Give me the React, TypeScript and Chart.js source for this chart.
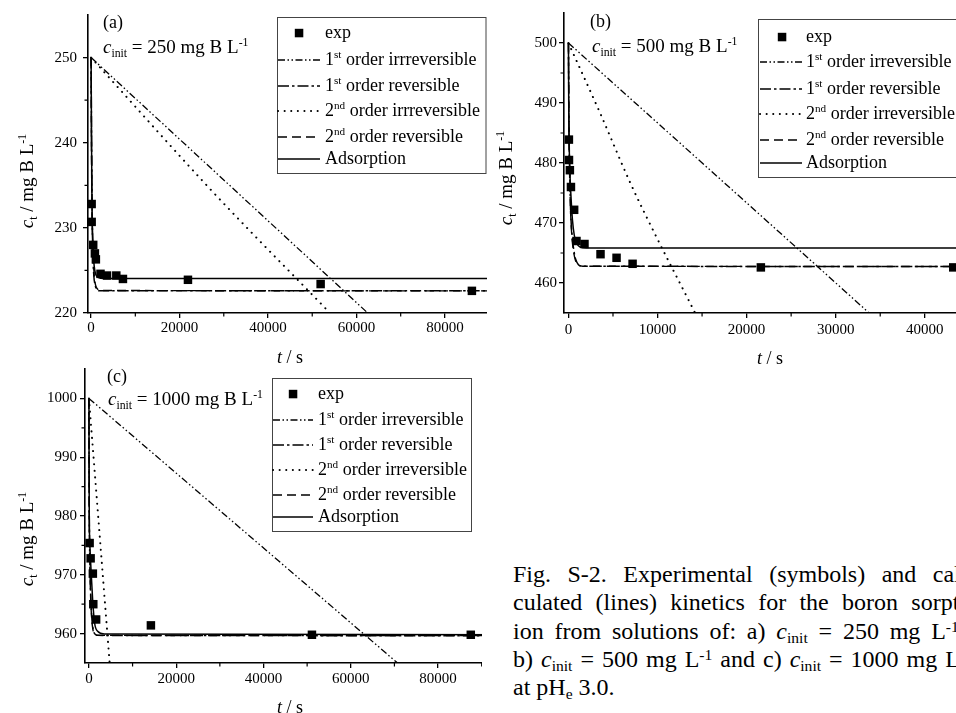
import React, { useEffect, useRef } from 'react';
import { Chart, registerables } from 'chart.js';
Chart.register(...registerables);

const SERIF = "'Liberation Serif', 'Times New Roman', Times, serif";

type Part = { t: string; s?: 'sub' | 'sup'; i?: boolean };

// ---------------- Panel (a): c_init = 250 ----------------
const aExpT = [125, 130, 480, 860, 1080, 2130, 3600, 5700, 7200, 21900, 51900, 86100];
const aExpC = [232.8, 230.7, 228.0, 227.0, 226.3, 224.6, 224.4, 224.4, 224.0, 223.9, 223.4, 222.6];
const a1IrrT = [0, 62550, 70000];
const a1IrrC = [250, 220, 216.4];
const a1RevT = [0, 100, 200, 400, 600, 900, 1300, 2000, 96000];
const a1RevC = [250, 241, 234, 227, 224.5, 223.3, 222.8, 222.6, 222.6];
const a2IrrT = [0, 26300, 35800, 54000, 60000];
const a2IrrC = [250, 234.9, 229.7, 220, 216.7];
const a2RevT = [0, 100, 200, 400, 700, 1000, 1500, 2500, 96000];
const a2RevC = [250, 238, 232, 227.5, 224.5, 223.3, 222.8, 222.65, 222.6];
const aAdsT = [0, 100, 200, 350, 500, 700, 1000, 1500, 3000, 96000];
const aAdsC = [250, 240, 233, 229, 227, 225.5, 224.6, 224.2, 224.05, 224.05];
const aXTicks = [0, 20000, 40000, 60000, 80000];
const aXMinor = [10000, 30000, 50000, 70000, 90000];
const aYTicks = [220, 230, 240, 250];
const aYMinor = [225, 235, 245];

// ---------------- Panel (b): c_init = 500 ----------------
const bExpT = [50, 60, 160, 280, 640, 900, 1800, 3600, 5400, 7200, 21600, 43200];
const bExpC = [483.9, 480.5, 478.8, 476.0, 472.2, 467.0, 466.5, 464.8, 464.2, 463.2, 462.6, 462.6];
const b1IrrT = [0, 33750, 36500];
const b1IrrC = [500, 455, 451.3];
const b1RevT = [0, 50, 120, 250, 400, 600, 800, 1100, 1600, 50000];
const b1RevC = [500, 488, 480, 472, 468, 465.5, 464, 463.1, 462.8, 462.75];
const b2IrrT = [0, 3500, 7000, 10000, 13400, 15000];
const b2IrrC = [500, 488.5, 476.5, 467.3, 457.4, 452.7];
const b2RevT = [0, 50, 120, 250, 400, 600, 800, 1100, 1600, 50000];
const b2RevC = [500, 487, 479, 471.5, 467.5, 465, 463.7, 463.0, 462.8, 462.75];
const bAdsT = [0, 30, 60, 150, 300, 450, 650, 900, 1300, 2000, 50000];
const bAdsC = [500, 490, 485, 479, 474, 470.5, 468, 466.7, 466.0, 465.85, 465.85];
const bXTicks = [0, 10000, 20000, 30000, 40000];
const bXMinor = [5000, 15000, 25000, 35000, 45000];
const bYTicks = [460, 470, 480, 490, 500];
const bYMinor = [465, 475, 485, 495];

// ---------------- Panel (c): c_init = 1000 ----------------
const cExpT = [160, 390, 900, 1000, 1650, 14200, 51100, 87500];
const cExpC = [975.4, 972.8, 970.2, 965.0, 962.4, 961.4, 959.8, 959.8];
const c1IrrT = [0, 70700, 76000];
const c1IrrC = [1000, 955, 951.6];
const c1RevT = [0, 50, 150, 350, 600, 900, 1300, 2000, 96000];
const c1RevC = [1000, 985, 975, 968, 963.5, 961, 960, 959.7, 959.65];
const c2IrrT = [0, 2400, 4750, 5200];
const c2IrrC = [1000, 977.3, 955, 950.7];
const c2RevT = [0, 40, 120, 300, 550, 850, 1200, 2000, 96000];
const c2RevC = [1000, 985, 976, 968.5, 963.5, 961, 960, 959.7, 959.65];
const cAdsT = [0, 30, 80, 200, 400, 650, 900, 1300, 2000, 3500, 96000];
const cAdsC = [1000, 990, 980, 975.5, 972, 968.5, 965.2, 961.8, 960.4, 959.95, 959.8];
const cXTicks = [0, 20000, 40000, 60000, 80000];
const cXMinor = [10000, 30000, 50000, 70000, 90000];
const cYTicks = [960, 970, 980, 990, 1000];
const cYMinor = [965, 975, 985, 995];

// ---------------- Text ----------------
const legendLabelsA: Part[][] = [
  [{ t: 'exp' }],
  [{ t: '1' }, { t: 'st', s: 'sup' }, { t: ' order irrreversible' }],
  [{ t: '1' }, { t: 'st', s: 'sup' }, { t: ' order reversible' }],
  [{ t: '2' }, { t: 'nd', s: 'sup' }, { t: ' order irrreversible' }],
  [{ t: '2' }, { t: 'nd', s: 'sup' }, { t: ' order reversible' }],
  [{ t: 'Adsorption' }],
];
const legendLabelsBC: Part[][] = [
  [{ t: 'exp' }],
  [{ t: '1' }, { t: 'st', s: 'sup' }, { t: ' order irreversible' }],
  [{ t: '1' }, { t: 'st', s: 'sup' }, { t: ' order reversible' }],
  [{ t: '2' }, { t: 'nd', s: 'sup' }, { t: ' order irreversible' }],
  [{ t: '2' }, { t: 'nd', s: 'sup' }, { t: ' order reversible' }],
  [{ t: 'Adsorption' }],
];
const yTitleParts: Part[] = [{ t: 'c', i: true }, { t: 't', s: 'sub' }, { t: ' / mg B L' }, { t: '-1', s: 'sup' }];
const xTitleParts: Part[] = [{ t: 't', i: true }, { t: ' / s' }];
const cinitA: Part[] = [{ t: 'c', i: true }, { t: 'init', s: 'sub' }, { t: ' = 250 mg B L' }, { t: '-1', s: 'sup' }];
const cinitB: Part[] = [{ t: 'c', i: true }, { t: 'init', s: 'sub' }, { t: ' = 500 mg B L' }, { t: '-1', s: 'sup' }];
const cinitC: Part[] = [{ t: 'c', i: true }, { t: 'init', s: 'sub' }, { t: ' = 1000 mg B L' }, { t: '-1', s: 'sup' }];

const captionLines: Part[][] = [
  [{ t: 'Fig. S-2. Experimental (symbols) and cal-' }],
  [{ t: 'culated (lines) kinetics for the boron sorpt-' }],
  [{ t: 'ion from solutions of: a) ' }, { t: 'c', i: true }, { t: 'init', s: 'sub' }, { t: ' = 250 mg L' }, { t: '-1', s: 'sup' }, { t: ',' }],
  [{ t: 'b) ' }, { t: 'c', i: true }, { t: 'init', s: 'sub' }, { t: ' = 500 mg L' }, { t: '-1', s: 'sup' }, { t: ' and c) ' }, { t: 'c', i: true }, { t: 'init', s: 'sub' }, { t: ' = 1000 mg L' }, { t: '-1', s: 'sup' }],
  [{ t: 'at pH' }, { t: 'e', s: 'sub' }, { t: ' 3.0.' }],
];
const captionBaselines = [582, 610, 639, 667, 695];
const captionWordSpacing = [10.5, 7.3, 4.8, 2, 0];

// ---------------- Styles ----------------
type LStyle = { point?: boolean; dash: number[]; width: number; cap?: CanvasLineCap };
const seriesStyle: LStyle[] = [
  { point: true, dash: [], width: 0 },
  { dash: [7, 2.5, 1.5, 2.5, 1.5, 2.5], width: 1.3 },
  { dash: [11, 3, 2.5, 3], width: 1.5 },
  { dash: [0.1, 6.5], width: 2, cap: 'round' },
  { dash: [9, 5], width: 1.4 },
  { dash: [], width: 1.5 },
];

function fontStr(size: number, italic?: boolean) {
  return `${italic ? 'italic ' : ''}${size}px ${SERIF}`;
}
function partSize(p: Part, size: number) {
  return p.s ? size * 0.62 : size;
}
function richWidth(ctx: CanvasRenderingContext2D, parts: Part[], size: number) {
  let w = 0;
  for (const p of parts) {
    ctx.font = fontStr(partSize(p, size), p.i);
    w += ctx.measureText(p.t).width;
  }
  return w;
}
function drawRich(ctx: CanvasRenderingContext2D, parts: Part[], x: number, y: number, size: number) {
  ctx.textAlign = 'left';
  ctx.textBaseline = 'alphabetic';
  let cx = x;
  for (const p of parts) {
    ctx.font = fontStr(partSize(p, size), p.i);
    const dy = p.s === 'sub' ? size * 0.22 : p.s === 'sup' ? -size * 0.38 : 0;
    ctx.fillText(p.t, cx, y + dy);
    cx += ctx.measureText(p.t).width;
  }
  return cx - x;
}

interface Panel {
  w: number; h: number; left: number; top: number; bottom: number;
  xMin: number; xMax: number; yMin: number; yMax: number;
  xTicks: number[]; yTicks: number[]; xMinor: number[]; yMinor: number[];
  yPad: number; xPad: number;
  series: [number[], number[]][];
  label: string; labelPos: [number, number];
  cinit: Part[]; cinitPos: [number, number];
  yTitlePos: [number, number]; xTitlePos: [number, number];
  legend: { box: [number, number, number, number]; lineX: [number, number]; sqX: number; textX: number; rows: number[]; labels: Part[][]; size: number };
}

const panelA: Panel = {
  w: 520, h: 370, left: 88, top: 14, bottom: 313,
  xMin: -700, xMax: 95620, yMin: 220, yMax: 255,
  xTicks: aXTicks, yTicks: aYTicks, xMinor: aXMinor, yMinor: aYMinor, yPad: 6, xPad: 1,
  series: [[aExpT, aExpC], [a1IrrT, a1IrrC], [a1RevT, a1RevC], [a2IrrT, a2IrrC], [a2RevT, a2RevC], [aAdsT, aAdsC]],
  label: '(a)', labelPos: [103, 28], cinit: cinitA, cinitPos: [103, 53],
  yTitlePos: [27, 181], xTitlePos: [290, 357],
  legend: { box: [277, 17, 485.5, 173], lineX: [278, 320], sqX: 299, textX: 325, rows: [33, 60, 86, 111, 137, 159], labels: legendLabelsA, size: 18 },
};
const panelB: Panel = {
  w: 520, h: 370, left: 77, top: 13, bottom: 313,
  xMin: -500, xMax: 48560, yMin: 455, yMax: 505,
  xTicks: bXTicks, yTicks: bYTicks, xMinor: bXMinor, yMinor: bYMinor, yPad: 2, xPad: 3,
  series: [[bExpT, bExpC], [b1IrrT, b1IrrC], [b1RevT, b1RevC], [b2IrrT, b2IrrC], [b2RevT, b2RevC], [bAdsT, bAdsC]],
  label: '(b)', labelPos: [103, 27], cinit: cinitB, cinitPos: [105, 52],
  yTitlePos: [18.5, 178], xTitlePos: [283, 358],
  legend: { box: [271, 19, 530, 177], lineX: [273, 315], sqX: 295, textX: 319, rows: [37, 62, 89, 114, 140, 163], labels: legendLabelsBC, size: 18 },
};
const panelC: Panel = {
  w: 520, h: 368, left: 85, top: 24, bottom: 318,
  xMin: -900, xMax: 97400, yMin: 955, yMax: 1005,
  xTicks: cXTicks, yTicks: cYTicks, xMinor: cXMinor, yMinor: cYMinor, yPad: 3, xPad: 2,
  series: [[cExpT, cExpC], [c1IrrT, c1IrrC], [c1RevT, c1RevC], [c2IrrT, c2IrrC], [c2RevT, c2RevC], [cAdsT, cAdsC]],
  label: '(c)', labelPos: [107, 37], cinit: cinitC, cinitPos: [108, 60],
  yTitlePos: [27, 194], xTitlePos: [290, 362],
  legend: { box: [272, 33, 471, 186], lineX: [273, 313], sqX: 293, textX: 318, rows: [49, 75, 100, 125, 150, 172], labels: legendLabelsBC, size: 18 },
};

function makeDeco(p: Panel) {
  return {
    id: 'deco',
    afterDraw(chart: any) {
      const ctx: CanvasRenderingContext2D = chart.ctx;
      const xs = chart.scales.x;
      const ys = chart.scales.y;
      const area = chart.chartArea;
      ctx.save();
      ctx.fillStyle = '#000';
      ctx.strokeStyle = '#000';
      // minor ticks
      ctx.lineWidth = 1.2;
      ctx.beginPath();
      for (const v of p.xMinor) {
        const px = xs.getPixelForValue(v);
        if (px < area.left || px > area.right) continue;
        ctx.moveTo(px, area.bottom);
        ctx.lineTo(px, area.bottom + 3.5);
      }
      for (const v of p.yMinor) {
        const py = ys.getPixelForValue(v);
        ctx.moveTo(area.left, py);
        ctx.lineTo(area.left - 3.5, py);
      }
      ctx.stroke();
      // panel label and c_init
      ctx.font = fontStr(18);
      ctx.textAlign = 'left';
      ctx.textBaseline = 'alphabetic';
      ctx.fillText(p.label, p.labelPos[0], p.labelPos[1]);
      drawRich(ctx, p.cinit, p.cinitPos[0], p.cinitPos[1], 19);
      // axis titles
      ctx.save();
      ctx.translate(p.yTitlePos[0], p.yTitlePos[1]);
      ctx.rotate(-Math.PI / 2);
      const yw = richWidth(ctx, yTitleParts, 19);
      drawRich(ctx, yTitleParts, -yw / 2, 6, 19);
      ctx.restore();
      const xw = richWidth(ctx, xTitleParts, 18);
      drawRich(ctx, xTitleParts, p.xTitlePos[0] - xw / 2, p.xTitlePos[1] + 6, 18);
      // legend
      const L = p.legend;
      const [bx1, by1, bx2, by2] = L.box;
      ctx.fillStyle = '#fff';
      ctx.fillRect(bx1, by1, bx2 - bx1, by2 - by1);
      ctx.strokeStyle = '#444';
      ctx.lineWidth = 1;
      ctx.setLineDash([]);
      ctx.strokeRect(bx1 + 0.5, by1 + 0.5, bx2 - bx1, by2 - by1);
      ctx.fillStyle = '#000';
      ctx.strokeStyle = '#000';
      L.rows.forEach((ry, i) => {
        const st = seriesStyle[i];
        if (st.point) {
          ctx.fillRect(L.sqX - 4.2, ry - 4.2, 8.5, 8.5);
        } else {
          ctx.save();
          ctx.lineWidth = st.width;
          ctx.setLineDash(st.dash);
          ctx.lineCap = st.cap || 'butt';
          ctx.beginPath();
          ctx.moveTo(L.lineX[0], ry);
          ctx.lineTo(L.lineX[1], ry);
          ctx.stroke();
          ctx.restore();
        }
        drawRich(ctx, L.labels[i], L.textX, ry + 5, L.size);
      });
      ctx.restore();
    },
  };
}

function buildConfig(p: Panel): any {
  const tickFont = { family: SERIF, size: 15 };
  const datasets = p.series.map(([ts, cs], i) => {
    const st = seriesStyle[i];
    const data = ts.map((t, k) => ({ x: t, y: cs[k] }));
    if (st.point) {
      return {
        data, showLine: false, pointStyle: 'rect', pointRadius: 6, pointBorderWidth: 0,
        backgroundColor: '#000', borderColor: '#000', order: 0,
      };
    }
    return {
      data, showLine: true, pointRadius: 0, borderColor: '#000', borderWidth: st.width,
      borderDash: st.dash, borderCapStyle: st.cap || 'butt', fill: false,
      cubicInterpolationMode: 'monotone', order: 1,
    };
  });
  return {
    type: 'scatter',
    data: { datasets },
    options: {
      animation: false,
      responsive: false,
      devicePixelRatio: 1,
      events: [],
      layout: { padding: { top: p.top, left: 0, right: 0, bottom: 0 } },
      plugins: { legend: { display: false }, tooltip: { enabled: false } },
      scales: {
        x: {
          type: 'linear', min: p.xMin, max: p.xMax,
          afterBuildTicks: (s: any) => { s.ticks = p.xTicks.map((v) => ({ value: v })); },
          afterFit: (s: any) => { s.height = p.h - p.bottom; },
          ticks: { font: tickFont, color: '#000', padding: p.xPad, maxRotation: 0, autoSkip: false, callback: (v: any) => String(v) },
          grid: { drawOnChartArea: false, drawTicks: true, tickLength: 5, color: '#000', lineWidth: 1.3 },
          border: { display: true, color: '#000', width: 1.6 },
        },
        y: {
          type: 'linear', min: p.yMin, max: p.yMax,
          afterBuildTicks: (s: any) => { s.ticks = p.yTicks.map((v) => ({ value: v })); },
          afterFit: (s: any) => { s.width = p.left; },
          ticks: { font: tickFont, color: '#000', padding: p.yPad, autoSkip: false, callback: (v: any) => String(v) },
          grid: { drawOnChartArea: false, drawTicks: true, tickLength: 5, color: '#000', lineWidth: 1.3 },
          border: { display: true, color: '#000', width: 1.6 },
        },
      },
    },
    plugins: [makeDeco(p)],
  };
}

function PanelChart({ p, style }: { p: Panel; style: React.CSSProperties }) {
  const ref = useRef<HTMLCanvasElement>(null);
  useEffect(() => {
    if (!ref.current) return;
    const chart = new Chart(ref.current, buildConfig(p));
    return () => chart.destroy();
  }, [p]);
  return (
    <div style={{ position: 'absolute', overflow: 'hidden', ...style }}>
      <canvas ref={ref} width={p.w} height={p.h} style={{ display: 'block', width: p.w, height: p.h }} />
    </div>
  );
}

function renderParts(parts: Part[]) {
  return parts.map((q, k) => {
    const inner = q.i ? <i>{q.t}</i> : q.t;
    if (q.s === 'sub') return <sub key={k} style={{ fontSize: '0.65em', lineHeight: 0, verticalAlign: '-0.25em' }}>{inner}</sub>;
    if (q.s === 'sup') return <sup key={k} style={{ fontSize: '0.65em', lineHeight: 0, verticalAlign: '0.45em' }}>{inner}</sup>;
    return <span key={k}>{inner}</span>;
  });
}

export default function App() {
  return (
    <div style={{ position: 'fixed', left: 0, top: 0, width: 956, height: 713, overflow: 'hidden', background: '#fff' }}>
      <PanelChart p={panelA} style={{ left: 0, top: 0, width: 487, height: 370 }} />
      <PanelChart p={panelB} style={{ left: 487, top: 0, width: 469, height: 370 }} />
      <PanelChart p={panelC} style={{ left: 0, top: 345, width: 482, height: 368 }} />
      {captionLines.map((line, i) => (
        <div
          key={i}
          style={{
            position: 'absolute', left: 513, top: captionBaselines[i] - 22.1, whiteSpace: 'nowrap',
            fontFamily: SERIF, fontSize: 24, lineHeight: '28px', color: '#000', wordSpacing: captionWordSpacing[i],
          }}
        >
          {renderParts(line)}
        </div>
      ))}
    </div>
  );
}
